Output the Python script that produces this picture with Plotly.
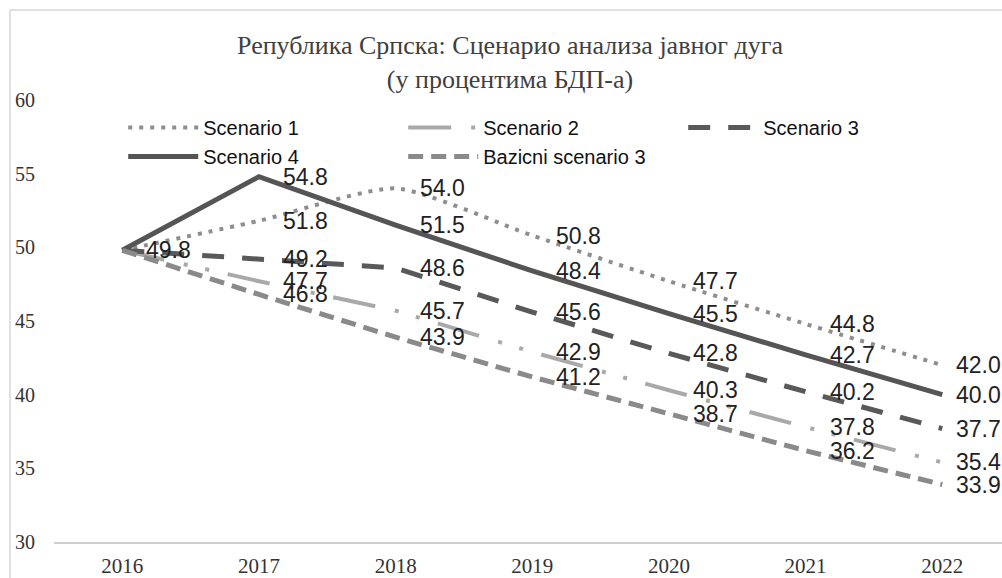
import plotly.graph_objects as go

# Public debt scenarios, % of GDP
years = ["2016", "2017", "2018", "2019", "2020", "2021", "2022"]
scenario_1 = [49.8, 51.8, 54.0, 50.8, 47.7, 44.8, 42.0]
scenario_2 = [49.8, 47.7, 45.7, 42.9, 40.3, 37.8, 35.4]
scenario_3 = [49.8, 49.2, 48.6, 45.6, 42.8, 40.2, 37.7]
scenario_4 = [49.8, 54.8, 51.5, 48.4, 45.5, 42.7, 40.0]
baseline_3 = [49.8, 46.8, 43.9, 41.2, 38.7, 36.2, 33.9]

y_ticks = [30, 35, 40, 45, 50, 55, 60]

series = [
    ("Scenario 1", scenario_1, dict(color="#8e8e8e", width=4, dash="4px,7px"), "spline"),
    ("Scenario 2", scenario_2, dict(color="#a9a9a9", width=4, dash="43px,20px,4px,18px,4px,19px"), "linear"),
    ("Scenario 3", scenario_3, dict(color="#595959", width=5, dash="22px,18px"), "linear"),
    ("Scenario 4", scenario_4, dict(color="#555555", width=5), "linear"),
    ("Bazicni scenario 3", baseline_3, dict(color="#8a8a8a", width=5, dash="15px,8px"), "linear"),
]

fig = go.Figure()
for name, vals, line, shape in series:
    fig.add_trace(go.Scatter(
        x=years, y=vals, name=name, mode="lines",
        line=dict(shape=shape, smoothing=0.6, **line),
    ))

# value labels to the right of each point (2016 shared start labelled once);
# category axis positions are given by category index
label_font = dict(family="Liberation Sans, Arial, sans-serif", size=23, color="#222222")
for idx, (name, vals, line, shape) in enumerate(series):
    for i, v in enumerate(vals):
        if i == 0 and idx != 3:
            continue
        fig.add_annotation(
            x=i, y=v, xref="x", yref="y", text=f"{v:.1f}", showarrow=False,
            xanchor="left", yanchor="middle",
            xshift=12 if i == len(years) - 1 else 22,
            font=label_font,
        )

# chart frame (left and top edges)
fig.add_shape(type="line", xref="paper", yref="paper",
              x0=-0.0464, x1=1.05, y0=1.2036, y1=1.2036,
              line=dict(color="#d6d6d6", width=1.5))
fig.add_shape(type="line", xref="paper", yref="paper",
              x0=-0.0464, x1=-0.0464, y0=-0.2, y1=1.2036,
              line=dict(color="#d6d6d6", width=1.5))

serif = "Liberation Serif, Times New Roman, serif"

fig.update_layout(
    width=1002, height=578,
    margin=dict(l=54, r=0, t=100, b=36, autoexpand=False),
    paper_bgcolor="white", plot_bgcolor="white",
    title=dict(
        text="Република Српска: Сценарио анализа јавног дуга<br>(у процентима БДП-а)",
        x=0.481, xref="paper", xanchor="center",
        y=1 - 54 / 578, yanchor="top",
        font=dict(family=serif, size=26, color="#404040"),
    ),
    showlegend=True,
    legend=dict(
        orientation="h", x=0.073, xanchor="left", y=0.982, yanchor="top",
        entrywidth=195, entrywidthmode="pixels", itemwidth=70,
        bgcolor="rgba(255,255,255,0)",
        font=dict(family="Liberation Sans, Arial, sans-serif", size=20, color="#111111"),
        traceorder="normal",
    ),
    xaxis=dict(
        type="category", range=[-0.5, 6.437],
        showgrid=False, zeroline=False,
        showline=True, linecolor="#cfcfcf", linewidth=2,
        ticks="", ticklabelstandoff=4,
        tickfont=dict(family=serif, size=21, color="#333333"),
        automargin=False,
    ),
    yaxis=dict(
        range=[30, 60], tickvals=y_ticks,
        showgrid=False, zeroline=False, showline=False,
        ticks="", ticklabelstandoff=18,
        tickfont=dict(family=serif, size=20, color="#333333"),
        automargin=False,
    ),
)

fig.write_html("out.html")
